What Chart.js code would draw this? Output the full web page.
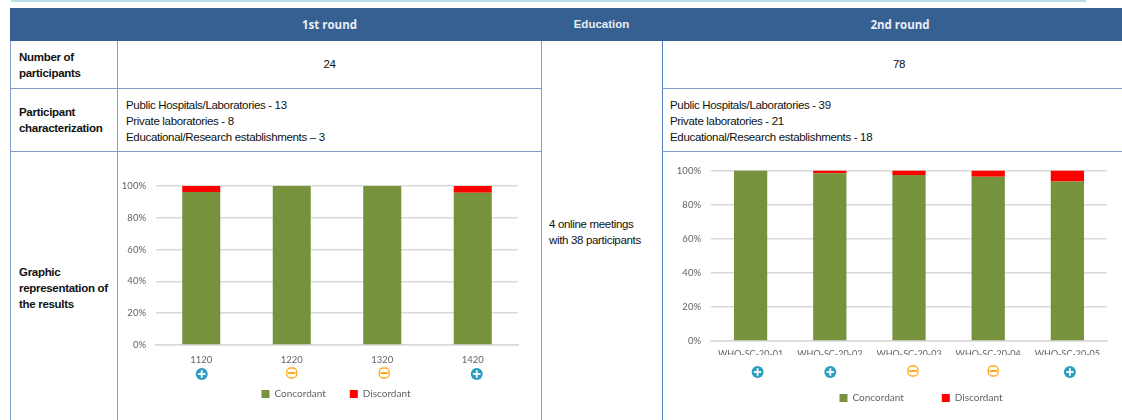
<!DOCTYPE html>
<html>
<head>
<meta charset="utf-8">
<script src="https://cdn.jsdelivr.net/npm/chart.js@4"></script>
<style>
  html, body { margin: 0; padding: 0; width: 1122px; height: 420px; overflow: hidden; background: #fff; }
  body { position: relative; font-family: "Liberation Sans", Arial, sans-serif; color: #111; }
  .strip { position: absolute; left: 11px; top: 0; width: 1075px; height: 2px; background: #b7dde8; }
  .cell { position: absolute; box-sizing: border-box; font-size: 11.5px; line-height: 16px; letter-spacing: -0.33px; }
  .head { background: #366092; color: #e8eef5; font-weight: bold; font-size: 11.5px; text-align: center; line-height: 33px; letter-spacing: 0; font-family: "Open Sans", sans-serif; }
  .label { font-weight: bold; letter-spacing: -0.3px; padding-left: 8px; display: flex; align-items: center; }
  .num { text-align: center; line-height: 47px; }
  .list { padding: 8px 0 0 8px; }
  .vline, .hline { position: absolute; background: #7f9fc9; }
  .chartbox { position: absolute; }
</style>
</head>
<body>
<div class="strip"></div>

<div class="cell head" style="left:10px;top:8px;width:1112px;height:33px;"></div>
<div class="cell head" style="left:118px;top:8px;width:423px;height:33px;">1st round</div>
<div class="cell head" style="left:541px;top:8px;width:121px;height:33px;font-family:'Liberation Sans',sans-serif;">Education</div>
<div class="cell head" style="left:662px;top:8px;width:476px;height:33px;">2nd round</div>

<div class="cell label" style="left:11px;top:42px;width:106px;height:46px;">Number of<br>participants</div>
<div class="cell num" style="left:118px;top:41px;width:423px;height:47px;">24</div>
<div class="cell num" style="left:662px;top:41px;width:474px;height:47px;">78</div>

<div class="cell label" style="left:11px;top:89px;width:106px;height:62px;">Participant<br>characterization</div>
<div class="cell list" style="left:118px;top:89px;width:423px;height:62px;">Public Hospitals/Laboratories - 13<br>Private laboratories - 8<br>Educational/Research establishments – 3</div>
<div class="cell list" style="left:662px;top:89px;width:460px;height:62px;">Public Hospitals/Laboratories - 39<br>Private laboratories - 21<br>Educational/Research establishments - 18</div>

<div class="cell label" style="left:11px;top:154px;width:106px;height:268px;">Graphic<br>representation of<br>the results</div>
<div class="cell" style="left:549px;top:216px;width:110px;">4 online meetings<br>with 38 participants</div>

<div class="vline" style="left:10px;top:41px;width:1px;height:379px;"></div>
<div class="vline" style="left:117px;top:41px;width:1px;height:379px;"></div>
<div class="vline" style="left:541px;top:41px;width:1px;height:379px;"></div>
<div class="vline" style="left:662px;top:41px;width:1px;height:379px;background:#4f81bd;"></div>
<div class="hline" style="left:10px;top:88px;width:531px;height:1px;"></div>
<div class="hline" style="left:10px;top:151px;width:531px;height:1px;"></div>
<div class="hline" style="left:662px;top:88px;width:460px;height:1px;"></div>
<div class="hline" style="left:662px;top:151px;width:460px;height:1px;"></div>

<div class="chartbox" style="left:118px;top:152px;width:423px;height:268px;"><canvas id="round1"></canvas></div>
<div class="chartbox" style="left:663px;top:152px;width:459px;height:268px;"><canvas id="round2"></canvas></div>

<script>
// --- Data ---
const round1Labels = ["1120", "1220", "1320", "1420"];
const round1Concordant = [96.2, 100, 100, 95.8];
const round1Discordant = [3.8, 0, 0, 4.2];
const round1Marks = ["plus", "minus", "minus", "plus"];

const round2Labels = ["WHO-SC-20-01", "WHO-SC-20-02", "WHO-SC-20-03", "WHO-SC-20-04", "WHO-SC-20-05"];
const round2Concordant = [100, 98.4, 97.4, 96.4, 93.5];
const round2Discordant = [0, 1.6, 2.6, 3.6, 6.5];
const round2Marks = ["plus", "plus", "minus", "minus", "plus"];

const seriesNames = ["Concordant", "Discordant"];
const seriesColors = ["#76923c", "#ff0000"];

const TICK_COLOR = "#636363";
const GRID_COLOR = "#d9d9d9";
const CHART_FONT = "Lato, 'Open Sans', sans-serif";

// --- Plus / minus badges under the category labels ---
function drawBadge(c, kind, x, y) {
  c.save();
  c.lineCap = "round";
  if (kind === "plus") {
    c.fillStyle = "#2a9dc0";
    c.beginPath();
    c.arc(x, y, 6, 0, Math.PI * 2);
    c.fill();
    c.strokeStyle = "#e8f6fa";
    c.lineWidth = 2;
    c.beginPath();
    c.moveTo(x - 3, y); c.lineTo(x + 3, y);
    c.moveTo(x, y - 3); c.lineTo(x, y + 3);
    c.stroke();
  } else {
    c.fillStyle = "#fffdf5";
    c.strokeStyle = "#ffa91f";
    c.lineWidth = 1.3;
    c.beginPath();
    c.roundRect(x - 5, y - 6, 10, 10, 4);
    c.fill();
    c.stroke();
    c.lineWidth = 2;
    c.beginPath();
    c.moveTo(x - 3, y - 1); c.lineTo(x + 3, y - 1);
    c.stroke();
  }
  c.restore();
}

const badgePlugin = {
  id: "badges",
  // the legend in the reference sits right of the plot centre
  afterLayout(chart, args, opts) {
    chart.legend.left += opts.legendShift;
    chart.legend.right += opts.legendShift;
  },
  afterDraw(chart, args, opts) {
    const xScale = chart.scales.x;
    const base = chart.scales.y.getPixelForValue(0);
    opts.marks.forEach((kind, i) => {
      drawBadge(chart.ctx, kind, xScale.getPixelForValue(i) + opts.nudge[i], base + opts.drop);
    });
  }
};

function makeChart(id, labels, concordant, discordant, marks, cfg) {
  return new Chart(document.getElementById(id), {
    type: "bar",
    data: {
      labels: labels,
      datasets: [
        { label: seriesNames[0], data: concordant, backgroundColor: seriesColors[0], barPercentage: 0.42, categoryPercentage: 1 },
        { label: seriesNames[1], data: discordant, backgroundColor: seriesColors[1], barPercentage: 0.42, categoryPercentage: 1 }
      ]
    },
    options: {
      responsive: true,
      maintainAspectRatio: false,
      animation: false,
      layout: { padding: cfg.padding },
      plugins: {
        title: { display: false },
        tooltip: { enabled: false },
        legend: {
          position: "bottom",
          labels: {
            boxWidth: 8, boxHeight: 8, padding: cfg.legendGap, color: TICK_COLOR,
            font: { family: CHART_FONT, size: 10 }
          }
        },
        badges: { marks: marks, nudge: cfg.nudge, drop: cfg.drop, legendShift: cfg.legendShift }
      },
      scales: {
        x: {
          stacked: true,
          grid: { display: false, drawTicks: false },
          border: { color: GRID_COLOR, width: 1.6 },
          ticks: { color: TICK_COLOR, maxRotation: 0, padding: cfg.tickPad, font: { family: CHART_FONT, size: cfg.tickSize } },
          afterFit(scale) { scale.height = cfg.xHeight; }
        },
        y: {
          stacked: true,
          min: 0,
          max: 100,
          grid: { color: GRID_COLOR, lineWidth: 1.6, drawTicks: false },
          border: { display: false },
          ticks: { stepSize: 20, color: TICK_COLOR, padding: 10, font: { family: CHART_FONT, size: 9.5 }, callback: v => v + "%" },
          afterFit(scale) { scale.width = cfg.yWidth; }
        }
      }
    },
    plugins: [badgePlugin]
  });
}

makeChart("round1", round1Labels, round1Concordant, round1Discordant, round1Marks, {
  padding: { top: 34, left: 0, right: 23, bottom: 11 },
  yWidth: 38, xHeight: 20, legendGap: 24, tickPad: 9, tickSize: 9.5,
  legendShift: 18,
  nudge: [0.5, 0, 2, 4], drop: 29
});

makeChart("round2", round2Labels, round2Concordant, round2Discordant, round2Marks, {
  padding: { top: 18.5, left: 0, right: 15, bottom: 7 },
  yWidth: 48, xHeight: 14, legendGap: 38, tickPad: 8, tickSize: 9,
  legendShift: 36,
  nudge: [7, 0.5, 4, 5, 2.5], drop: 31
});
</script>
</body>
</html>
